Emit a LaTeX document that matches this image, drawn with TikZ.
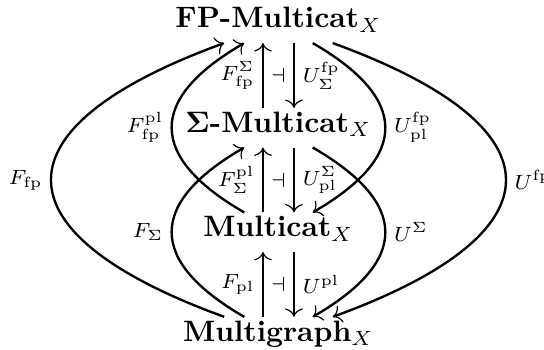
\documentclass[tikz,border=0pt]{standalone}
\usepackage{amsmath}
\usepackage{amssymb}
\usetikzlibrary{arrows.meta, positioning}

\begin{document}
\begin{tikzpicture}
    \tikzstyle{cat} = [inner sep=0pt, text height=8pt, text depth=5pt]
    \tikzstyle{arr} = [-{To[line width=0.4pt, scale=0.85]}, line width=0.8pt]
    \tikzstyle{lab} = [inner sep=2.5pt]

    \useasboundingbox (-94.4pt,-110.7pt) rectangle (90pt,7.9pt);

    \node (fp) [cat] {\textbf{FP-Multicat}$_X$};
    \node (sm) [cat, below=22pt of fp] {$\mathbf{\Sigma}$\textbf{-Multicat}$_X$};
    \node (mc) [cat, below=22pt of sm] {\textbf{Multicat}$_X$};
    \node (mg) [cat, below=22pt of mc] {\textbf{Multigraph}$_X$};

    % adjunctions between neighbours
    \draw[arr] ([xshift=-5.25pt]sm.north) -- node[lab, left] {$\scriptstyle F^{\Sigma}_{\mathrm{fp}}$} ([xshift=-5.25pt]fp.south);
    \draw[arr] ([xshift=5.25pt]fp.south) -- node[lab, right] {$\scriptstyle U^{\mathrm{fp}}_{\Sigma}$} ([xshift=5.25pt]sm.north);
    \path (fp) -- node {$\scriptstyle\dashv$} (sm);

    \draw[arr] ([xshift=-5.25pt]mc.north) -- node[lab, left] {$\scriptstyle F^{\mathrm{pl}}_{\Sigma}$} ([xshift=-5.25pt]sm.south);
    \draw[arr] ([xshift=5.25pt]sm.south) -- node[lab, right] {$\scriptstyle U^{\Sigma}_{\mathrm{pl}}$} ([xshift=5.25pt]mc.north);
    \path (sm) -- node {$\scriptstyle\dashv$} (mc);

    \draw[arr] ([xshift=-5.25pt]mg.north) -- node[lab, left] {$\scriptstyle F_{\mathrm{pl}}$} ([xshift=-5.25pt]mc.south);
    \draw[arr] ([xshift=5.25pt]mc.south) -- node[lab, right] {$\scriptstyle U^{\mathrm{pl}}$} ([xshift=5.25pt]mg.north);
    \path (mc) -- node {$\scriptstyle\dashv$} (mg);

    % composites, left
    \draw[arr] (mg) to[out=160, in=200, looseness=2.3] node[lab, left] {$\scriptstyle F_{\mathrm{fp}}$} (fp);
    \draw[arr] (mc) to[out=150, in=210, looseness=1.69] node[lab, left] {$\scriptstyle F^{\mathrm{pl}}_{\mathrm{fp}}$} (fp);
    \draw[arr] (mg) to[out=150, in=210, looseness=1.69] node[lab, left] {$\scriptstyle F_{\Sigma}$} (sm);

    % composites, right
    \draw[arr] (fp) to[out=-20, in=20, looseness=2.3] node[lab, right] {$\scriptstyle U^{\mathrm{fp}}$} (mg);
    \draw[arr] (fp) to[out=-30, in=30, looseness=1.69] node[lab, right] {$\scriptstyle U^{\mathrm{fp}}_{\mathrm{pl}}$} (mc);
    \draw[arr] (sm) to[out=-30, in=30, looseness=1.69] node[lab, right] {$\scriptstyle U^{\Sigma}$} (mg);
\end{tikzpicture}
\end{document}
